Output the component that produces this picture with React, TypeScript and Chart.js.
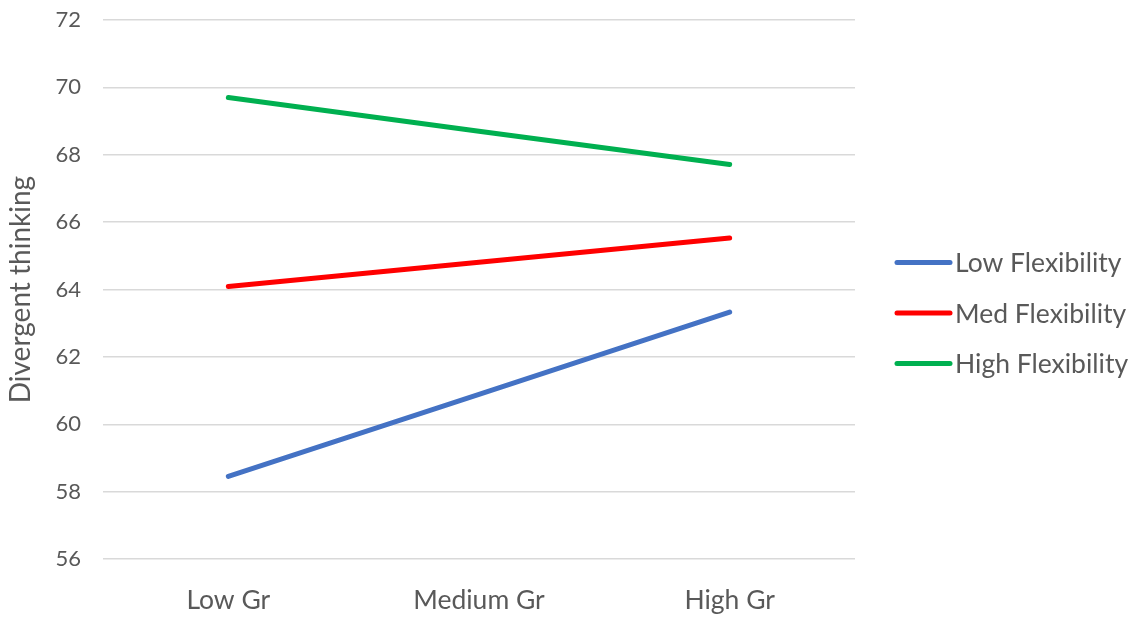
import React, { useEffect, useRef } from "react";
import { Chart, registerables } from "chart.js";

Chart.register(...registerables);

const categories = ["Low Gr", "Medium Gr", "High Gr"];
const lowFlexibility = [58.45, 60.89, 63.33];
const medFlexibility = [64.09, 64.81, 65.53];
const highFlexibility = [69.7, 68.7, 67.71];
const seriesNames = ["Low Flexibility", "Med Flexibility", "High Flexibility"];
const seriesColors = ["#4472C4", "#FF0000", "#00B050"];
const yMin = 56;
const yMax = 72;
const yStep = 2;

const FONT = "Lato, 'Open Sans', sans-serif";
const TEXT = "#595959";

// Legend drawn at the right of the plot: a short line sample followed by the series name.
const sideLegend = {
  id: "sideLegend",
  afterDraw(chart: any) {
    const ctx = chart.ctx;
    const area = chart.chartArea;
    const x0 = area.right + 42;
    const lineLen = 53;
    const gap = 50.5;
    const n = chart.data.datasets.length;
    const midY = (area.top + area.bottom) / 2 + 23.5;
    ctx.save();
    ctx.font = `26.5px ${FONT}`;
    ctx.textBaseline = "middle";
    ctx.textAlign = "left";
    chart.data.datasets.forEach((ds: any, i: number) => {
      const y = midY + (i - (n - 1) / 2) * gap;
      ctx.strokeStyle = ds.borderColor;
      ctx.lineWidth = 5;
      ctx.lineCap = "round";
      ctx.beginPath();
      ctx.moveTo(x0, y);
      ctx.lineTo(x0 + lineLen, y);
      ctx.stroke();
      ctx.fillStyle = TEXT;
      ctx.fillText(ds.label, x0 + lineLen + 5, y + 1);
    });
    ctx.restore();
  },
};

export default function App() {
  const ref = useRef<HTMLCanvasElement>(null);

  useEffect(() => {
    if (!ref.current) return;
    const data = [lowFlexibility, medFlexibility, highFlexibility];
    const chart = new Chart(ref.current, {
      type: "line",
      data: {
        labels: categories,
        datasets: data.map((values, i) => ({
          label: seriesNames[i],
          data: values,
          borderColor: seriesColors[i],
          backgroundColor: seriesColors[i],
          borderWidth: 5,
          borderCapStyle: "round",
          borderJoinStyle: "round",
          pointRadius: 0,
          pointHoverRadius: 0,
          tension: 0,
          fill: false,
        })),
      },
      options: {
        responsive: false,
        animation: false,
        devicePixelRatio: 1,
        layout: { padding: { top: 20, right: 289, left: 0, bottom: 0 } },
        plugins: {
          legend: { display: false },
          tooltip: { enabled: false },
        },
        scales: {
          x: {
            type: "category",
            offset: true,
            grid: { display: false, drawTicks: false },
            border: { display: false },
            ticks: {
              color: TEXT,
              font: { family: FONT, size: 26.5 },
              padding: 26,
            },
            afterFit(scale: any) {
              scale.height = 58;
              scale.paddingLeft = 0;
              scale.paddingRight = 0;
            },
          },
          y: {
            min: yMin,
            max: yMax,
            ticks: {
              stepSize: yStep,
              color: TEXT,
              font: { family: FONT, size: 22 },
              padding: 22,
            },
            grid: { color: "#D9D9D9", lineWidth: 1.5, drawTicks: false },
            border: { display: false },
            title: {
              display: true,
              text: "Divergent thinking",
              color: TEXT,
              font: { family: FONT, size: 28, weight: "normal" },
              padding: { top: 4, bottom: 0 },
            },
            afterFit(scale: any) {
              scale.width = 103;
              scale.paddingTop = 0;
              scale.paddingBottom = 0;
            },
          },
        },
      },
      plugins: [sideLegend],
    });
    return () => chart.destroy();
  }, []);

  return (
    <div style={{ position: "fixed", left: 0, top: 0, width: 1144, height: 617, background: "#fff" }}>
      <canvas ref={ref} width={1144} height={617} />
    </div>
  );
}
